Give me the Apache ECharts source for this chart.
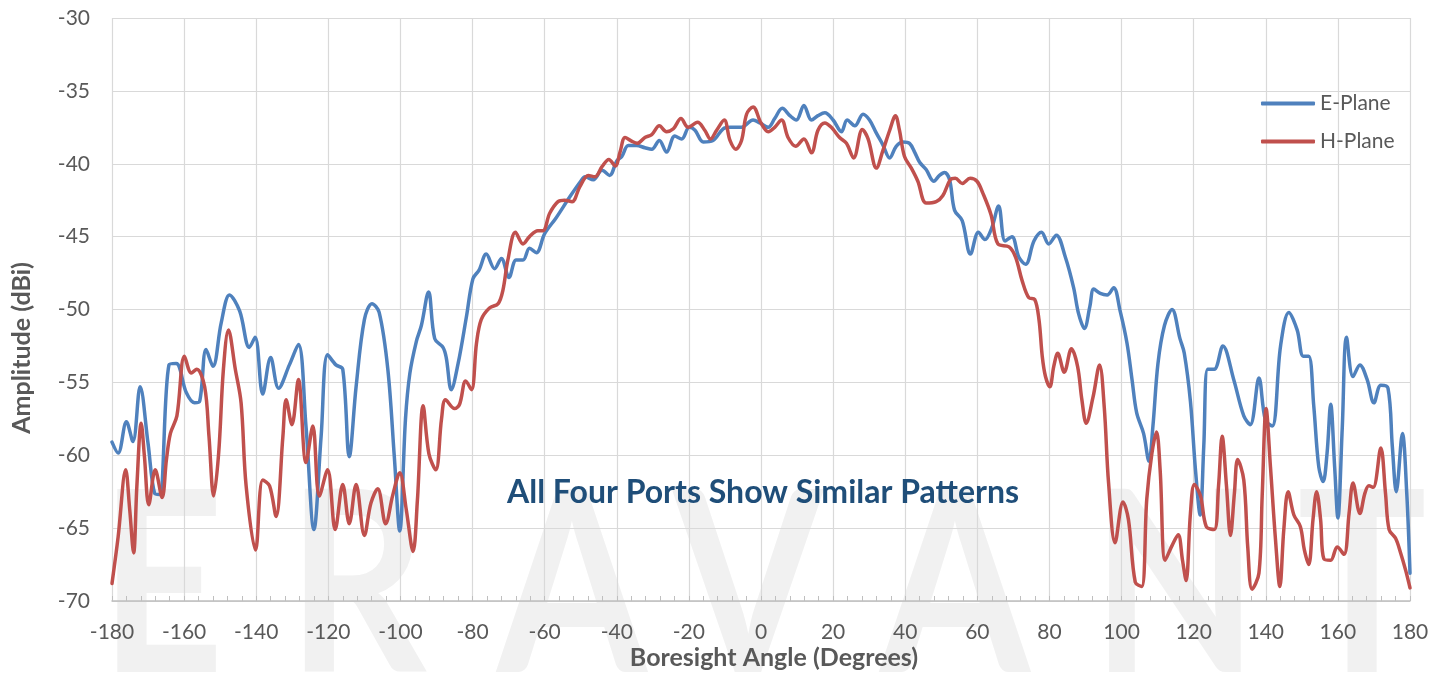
<!DOCTYPE html>
<html>
<head>
<meta charset="utf-8">
<script src="https://cdn.jsdelivr.net/npm/echarts@6/dist/echarts.min.js"></script>
<style>
html,body{margin:0;padding:0;background:#fff;}
#chart{width:1445px;height:675px;}
</style>
</head>
<body>
<div id="chart"></div>
<script>
// ---- Data ----
const xTicks = [-180,-160,-140,-120,-100,-80,-60,-40,-20,0,20,40,60,80,100,120,140,160,180];
const yTicks = [-70,-65,-60,-55,-50,-45,-40,-35,-30];

const eAngle = [-180,-178.3,-176,-174.2,-172.2,-170,-168.2,-166.8,-164.2,-162.2,-159.4,-157.1,-155.7,-153.9,-152,-149.7,-147.4,-144.6,-141.9,-140.3,-138.2,-136,-133.8,-130.8,-128.3,-126.2,-124,-122,-120.2,-117.9,-116,-114.2,-112.3,-110,-107.9,-105.9,-103.5,-101.7,-100.2,-98.6,-97.4,-95.6,-94.2,-92.2,-90.5,-88.2,-87.3,-85.9,-84,-81.7,-79.9,-78.2,-76.2,-73.9,-72,-69.9,-67.9,-66,-64.2,-62.3,-60,-56.8,-53.1,-50,-48.8,-46.5,-44.1,-42,-40,-38.6,-36.8,-34.5,-32.2,-30.3,-28.2,-26.2,-23.9,-22,-19.9,-18.3,-16,-13.3,-10.5,-8.6,-5.4,-2.2,-0.3,2,3.8,5.9,8,9.8,11.9,14,15.8,17.7,20,22.3,23.9,26,28.3,30.1,32,33.8,35.7,37.5,39.4,41.2,42.6,44,45.8,47.9,49.5,50.9,52.3,53.7,55.8,58.1,60.3,62.1,64,65.9,67.7,69.6,71.5,73.4,75.7,77.8,79.8,81.9,84.4,86.7,88.1,89.7,91.2,92.3,94.1,96,97.8,99.6,101.5,102.9,104.2,106.1,107.6,108.7,110.1,111.9,114,116.2,117.4,119.1,120.5,121.8,122.8,123.9,125.7,128.1,131.1,133.9,135.7,138.1,139.9,141.8,144.1,146.4,148.7,150.4,151.9,153.3,154.7,155.9,157,158,159.1,160,161.2,162.4,164.2,166.1,168.1,170,171.9,173.9,175.1,176.2,177.9,179.1,180];
const eAmp = [-59.1,-59.85,-57.7,-59.05,-55.3,-59.2,-62.6,-62.7,-53.8,-53.7,-55.7,-56.4,-56.3,-52.75,-53.9,-50.9,-49,-50.1,-52.6,-51.9,-55.8,-53.3,-55.4,-53.8,-52.4,-58,-65.1,-58.7,-53.1,-53.8,-54.1,-60.1,-55.3,-50.7,-49.6,-50.2,-54.1,-60.1,-65.2,-57.5,-54.4,-52.2,-51.1,-48.8,-52,-52.6,-53.3,-55.5,-53.7,-50.5,-47.9,-47.3,-46.2,-47.2,-46.5,-47.8,-46.6,-46.6,-45.8,-46.1,-44.8,-43.7,-42.3,-41.2,-40.9,-41.1,-40.45,-40.8,-39.8,-39.5,-38.75,-38.75,-38.9,-39,-38.4,-39.2,-38.1,-38.3,-37.5,-37.7,-38.5,-38.4,-37.6,-37.5,-37.5,-37,-37.2,-37.5,-36.9,-36.2,-36.7,-37,-36,-37,-36.7,-36.5,-37,-37.8,-37,-37.4,-36.6,-37,-37.9,-38.7,-39.6,-38.8,-38.5,-38.6,-39.2,-39.9,-40.4,-41.2,-40.8,-40.6,-41.1,-43.2,-43.9,-46.2,-44.7,-45.2,-44.4,-42.9,-45.3,-45,-46.4,-46.9,-45.3,-44.7,-45.5,-44.9,-46.4,-48.5,-50.3,-51.3,-49.8,-48.6,-48.9,-49,-48.5,-50.1,-52.3,-54.8,-57.1,-58.5,-60.4,-58,-53.7,-51.1,-50,-52,-53,-56.3,-61,-64.1,-59.4,-54.1,-54.1,-52.5,-54.8,-57.3,-57.9,-54.7,-57.6,-58,-52.5,-50.2,-51.4,-53.2,-53.2,-56.6,-60.8,-61.8,-59.85,-56.5,-60.8,-64.3,-58.2,-51.9,-54.6,-53.8,-54.8,-56.4,-55.2,-55.4,-59.4,-62.5,-58.5,-62.6,-68.1];

const hAngle = [-180,-178.3,-176.2,-175.1,-174,-173.1,-171.9,-171,-169.8,-168,-166.1,-164.9,-163.8,-162,-159.9,-158,-156.5,-154.3,-153.1,-151.8,-150.4,-149.1,-147.7,-145.8,-144.2,-142.8,-140.2,-138.2,-136.3,-134.5,-132.6,-131.7,-130.1,-128.3,-126.2,-124.3,-122.5,-120.2,-118.1,-116,-114.2,-112.3,-110,-108.2,-106.3,-104.1,-102.1,-100.2,-98.4,-96.5,-95.3,-93.7,-92.1,-90.2,-88.6,-87.5,-85,-83.6,-81.9,-80.3,-78.9,-77.6,-75.3,-72.9,-71.6,-70.2,-68.1,-66,-64.2,-61.9,-60.5,-58.6,-56.3,-54.5,-52.4,-50.3,-47.9,-46.1,-44.1,-42.2,-40.4,-39.1,-37.7,-35.9,-34.3,-32.2,-30.3,-28.2,-26.2,-24.3,-22.2,-20.2,-17.6,-15.6,-14,-12.3,-10.2,-8.6,-7,-5.4,-4,-2.2,0,2,3.8,5.7,7.5,9.6,11.9,14,15.8,17.7,19.5,21.8,23.7,25.7,28.1,29.7,32,33.8,35.7,37.3,38.4,39.8,41.7,43.5,45.8,48.6,50.4,52.5,53.9,55.8,58,59.9,61.5,63.8,65.7,68.8,70.6,72.4,74.3,75.9,77.1,78,78.9,80.1,81.2,82.3,84.1,86.1,87.8,89,90.2,92.1,93.9,95.2,96.4,98.2,100.4,101.9,103.8,105.6,107,108.4,109.7,110.7,112.1,114,115.7,116.9,117.9,119.1,120.2,121.9,123.5,125.7,126.9,127.9,129.1,130.2,131.3,132.2,133.9,135,136.2,138.1,139,140.1,141.3,142.7,143.9,145,146.2,147.8,149.6,150.7,151.9,153.1,154.1,155.2,156.1,158,159.8,161.7,163.1,164.2,166.1,167.5,168.6,169.8,171.9,173.2,174.2,176,177.4,178.8,180];
const hAmp = [-68.8,-65.6,-61,-63.7,-66.7,-62.1,-57.8,-60.1,-63.4,-61,-62.9,-60.3,-58.5,-57.3,-53.2,-54.35,-54.1,-55.3,-58.7,-62.8,-59.8,-54.1,-51.4,-54.1,-56.4,-62.1,-66.5,-61.7,-62.1,-64.2,-58.7,-56.2,-57.9,-54.8,-60.5,-58,-62.8,-61,-65.1,-62,-64.7,-62,-65.5,-63.3,-62.3,-64.7,-62.7,-61.2,-63.7,-66.6,-63.1,-56.6,-59.9,-61,-57.5,-56.2,-56.8,-56.5,-54.9,-55.5,-52.3,-50.7,-49.9,-49.6,-48.7,-46.6,-44.7,-45.5,-45,-44.6,-44.6,-43.4,-42.6,-42.5,-42.6,-41.6,-40.8,-40.9,-40.2,-39.7,-40.15,-39.2,-38.2,-38.45,-38.6,-38.2,-38,-37.4,-37.8,-37.6,-36.9,-37.5,-37.15,-37.7,-38.3,-37.7,-37,-38.4,-39,-38.4,-36.6,-36.1,-37.2,-37.8,-37.5,-37,-38.2,-38.8,-38.3,-39.25,-37.7,-37.2,-37.5,-38.2,-38.6,-39.6,-37.65,-38.3,-40.3,-39.1,-37.7,-36.7,-37.7,-39.5,-40.3,-41.2,-42.7,-42.6,-42.2,-41.1,-41,-41.35,-41,-41.2,-42,-43.5,-45.5,-45.7,-46.4,-48,-49.2,-49.3,-50.7,-53.2,-54.6,-55.3,-53.9,-53,-54.3,-52.7,-53.9,-56.2,-57.8,-56,-53.8,-56.7,-61.9,-66,-63.2,-64.4,-68.7,-69,-63,-59.9,-58.4,-61,-67.2,-66.2,-65.45,-67.2,-68.6,-64,-62,-62.8,-64.9,-65.1,-62.1,-58.7,-62.1,-65.5,-62.6,-60.3,-61.7,-66.3,-69.2,-68.1,-62.8,-56.8,-60.8,-65.8,-69,-65.1,-62.5,-64.1,-64.9,-66.5,-67.5,-64.4,-62.5,-64.4,-67.1,-67.2,-66.3,-66.8,-64,-61.9,-64,-62.6,-62.1,-62.2,-59.5,-62.6,-65.1,-65.7,-66.7,-67.9,-69.1];

const seriesNames = ['E-Plane','H-Plane'];
const watermarkLetters = ['E','R','A','V','A','N','T'];
const annotation = 'All Four Ports Show Similar Patterns';
const xTitle = 'Boresight Angle (Degrees)';
const yTitle = 'Amplitude (dBi)';

// ---- Build ----
const zip = (a,b) => a.map((v,i)=>[v,b[i]]);
const chart = echarts.init(document.getElementById('chart'), null, {renderer:'canvas'});
const FONT = 'Lato';
const wmX = [162, 357, 572, 748, 955, 1175, 1362];

const graphics = watermarkLetters.map((ch,i)=>({
  type:'text', x: wmX[i], y: 590, z: -10, silent:true,
  scaleX: 0.85,
  style:{text: ch, fontSize: 254, fontFamily: FONT, fontWeight: 'bold', fill:'#f1f1f1', align:'center', verticalAlign:'middle'}
}));
graphics.push({
  type:'text', x: 763, y: 493, z: 10,
  style:{text: annotation, fontSize: 32, fontFamily: FONT, fontWeight: 'bold', fill:'#1F4E79', align:'center', verticalAlign:'middle'}
});
graphics.push({
  type:'text', x: 774, y: 658, z: 10,
  style:{text: xTitle, fontSize: 25, fontFamily: FONT, fontWeight: 'bold', fill:'#595959', align:'center', verticalAlign:'middle'}
});
graphics.push({
  type:'text', x: 22, y: 348, z: 10, rotation: Math.PI/2,
  style:{text: yTitle, fontSize: 25, fontFamily: FONT, fontWeight: 'bold', fill:'#595959', align:'center', verticalAlign:'middle'}
});

chart.setOption({
  animation:false,
  backgroundColor:'#ffffff',
  grid:{left:112, right:35, top:18, bottom:74, containLabel:false},
  legend:{
    orient:'vertical', left:1256, top:88, itemWidth:54, itemHeight:4, itemGap:17,
    icon:'roundRect',
    textStyle:{fontFamily:FONT, fontSize:21, color:'#595959'},
    data: seriesNames
  },
  xAxis:{
    type:'value', min: xTicks[0], max: xTicks[xTicks.length-1], interval: 20,
    axisLine:{show:true, lineStyle:{color:'#bfbfbf', width:1.5}},
    axisTick:{show:true, inside:true, length:5, lineStyle:{color:'#bfbfbf', width:1}},
    minorTick:{show:true, splitNumber:5, length:5, lineStyle:{color:'#bfbfbf', width:1}},
    splitLine:{show:true, lineStyle:{color:'#d9d9d9', width:1.2}},
    axisLabel:{fontFamily:FONT, fontSize:21, color:'#595959', margin:21,
      formatter: v => xTicks.includes(v) ? String(v) : ''}
  },
  yAxis:{
    type:'value', min: yTicks[0], max: yTicks[yTicks.length-1], interval: 5,
    axisLine:{show:false}, axisTick:{show:false},
    splitLine:{show:true, lineStyle:{color:'#d9d9d9', width:1.2}},
    axisLabel:{fontFamily:FONT, fontSize:21, color:'#595959', margin:22,
      formatter: v => yTicks.includes(v) ? String(v) : ''}
  },
  graphic: graphics,
  series:[
    {name: seriesNames[0], type:'line', data: zip(eAngle,eAmp), showSymbol:false, symbol:'none', smooth:0.35,
     lineStyle:{color:'#4F81BD', width:3.5, cap:'round', join:'round'}, itemStyle:{color:'#4F81BD'}, z:3},
    {name: seriesNames[1], type:'line', data: zip(hAngle,hAmp), showSymbol:false, symbol:'none', smooth:0.35,
     lineStyle:{color:'#C0504D', width:3.5, cap:'round', join:'round'}, itemStyle:{color:'#C0504D'}, z:4}
  ]
});
</script>
</body>
</html>
